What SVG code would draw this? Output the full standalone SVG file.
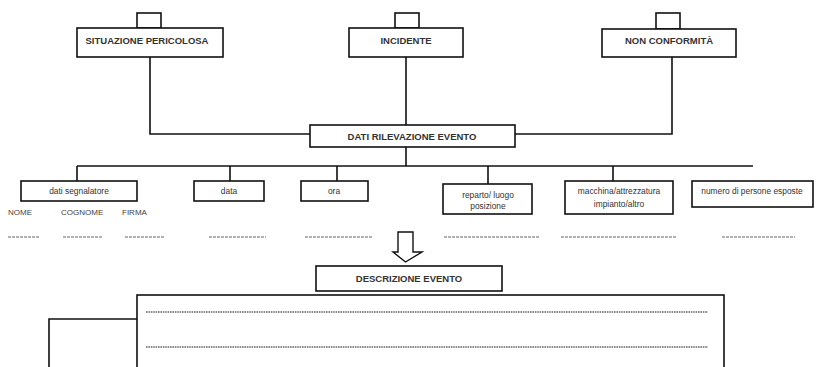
<svg xmlns="http://www.w3.org/2000/svg" width="816" height="367" viewBox="0 0 816 367">
<style>
.box{fill:#fff;stroke:#111;stroke-width:1.6}
.ln{fill:none;stroke:#111;stroke-width:1.6}
.t{font-family:"Liberation Sans",Arial,sans-serif;font-weight:bold;font-size:9.5px;fill:#333;text-anchor:middle}
.s{font-family:"Liberation Sans",Arial,sans-serif;font-size:8.4px;fill:#333;text-anchor:middle}
.f{font-family:"Liberation Sans",Arial,sans-serif;font-size:8px;fill:#444}
.dash{stroke:#666;stroke-width:1.2;stroke-dasharray:3 1}
.dot{stroke:#666;stroke-width:1.4;stroke-dasharray:1.6 0.8}
</style>
<rect width="816" height="367" fill="#fff"/>
<g id="connectors">
<path class="ln" d="M150,57 V134 H310"/>
<path class="ln" d="M406,57 V125"/>
<path class="ln" d="M672,57 V134 H515"/>
<path class="ln" d="M406,147 V166"/>
<path class="ln" d="M77,166 H753"/>
<path class="ln" d="M77,166 V181 M230,166 V181 M337,166 V181 M488,166 V184 M613,166 V181"/>
<path class="ln" d="M137,319 H49 V367"/>
<path d="M398,232 H413 V252 H422 L405.5,262 L393,252 H398 Z" fill="#fff" stroke="#111" stroke-width="1.4"/>
</g>
<g id="situazione">
<rect class="box" x="137" y="13" width="24" height="15"/>
<rect class="box" x="77" y="28" width="146" height="29"/>
<text class="t" x="147" y="43.5">SITUAZIONE PERICOLOSA</text>
</g>
<g id="incidente">
<rect class="box" x="395" y="13" width="24" height="15"/>
<rect class="box" x="349" y="28" width="114" height="29"/>
<text class="t" x="406" y="43.5">INCIDENTE</text>
</g>
<g id="nonconformita">
<rect class="box" x="656" y="13" width="24" height="16"/>
<rect class="box" x="602" y="29" width="134" height="28"/>
<text class="t" x="669" y="43.5">NON CONFORMITÀ</text>
</g>
<g id="dati">
<rect class="box" x="310" y="125" width="205" height="22"/>
<text class="t" x="412" y="139.5">DATI RILEVAZIONE EVENTO</text>
</g>
<g id="segnalatore">
<rect class="box" x="21" y="181" width="116" height="20"/>
<text class="s" x="79" y="194">dati segnalatore</text>
<text class="f" x="8" y="215">NOME</text>
<text class="f" x="61" y="215">COGNOME</text>
<text class="f" x="122" y="215">FIRMA</text>
</g>
<g id="data">
<rect class="box" x="194" y="181" width="70" height="20"/>
<text class="s" x="229" y="194">data</text>
</g>
<g id="ora">
<rect class="box" x="301" y="181" width="67" height="20"/>
<text class="s" x="334" y="194">ora</text>
</g>
<g id="reparto">
<rect class="box" x="443" y="184" width="89" height="30"/>
<text class="s" x="488" y="197.5">reparto/ luogo</text>
<text class="s" x="488" y="209">posizione</text>
</g>
<g id="macchina">
<rect class="box" x="565" y="181" width="108" height="33"/>
<text class="s" x="619" y="194">macchina/attrezzatura</text>
<text class="s" x="619" y="207">impianto/altro</text>
</g>
<g id="numero">
<rect class="box" x="692" y="181" width="121" height="26"/>
<text class="s" x="752" y="194">numero di persone esposte</text>
</g>
<g id="dashes">
<line class="dash" x1="8" y1="237" x2="40" y2="237"/>
<line class="dash" x1="63" y1="237" x2="102" y2="237"/>
<line class="dash" x1="125" y1="237" x2="165" y2="237"/>
<line class="dash" x1="209" y1="237" x2="266" y2="237"/>
<line class="dash" x1="305" y1="237" x2="373" y2="237"/>
<line class="dash" x1="444" y1="237" x2="539" y2="237"/>
<line class="dash" x1="561" y1="237" x2="677" y2="237"/>
<line class="dash" x1="722" y1="237" x2="795" y2="237"/>
</g>
<g id="descrizione">
<rect class="box" x="316" y="266" width="186" height="25"/>
<text class="t" x="409" y="281.5">DESCRIZIONE EVENTO</text>
</g>
<g id="descrizione-area">
<rect class="box" x="137" y="295" width="587" height="80"/>
<line class="dot" x1="146" y1="312" x2="708" y2="312"/>
<line class="dot" x1="146" y1="347" x2="708" y2="347"/>
</g>
</svg>
